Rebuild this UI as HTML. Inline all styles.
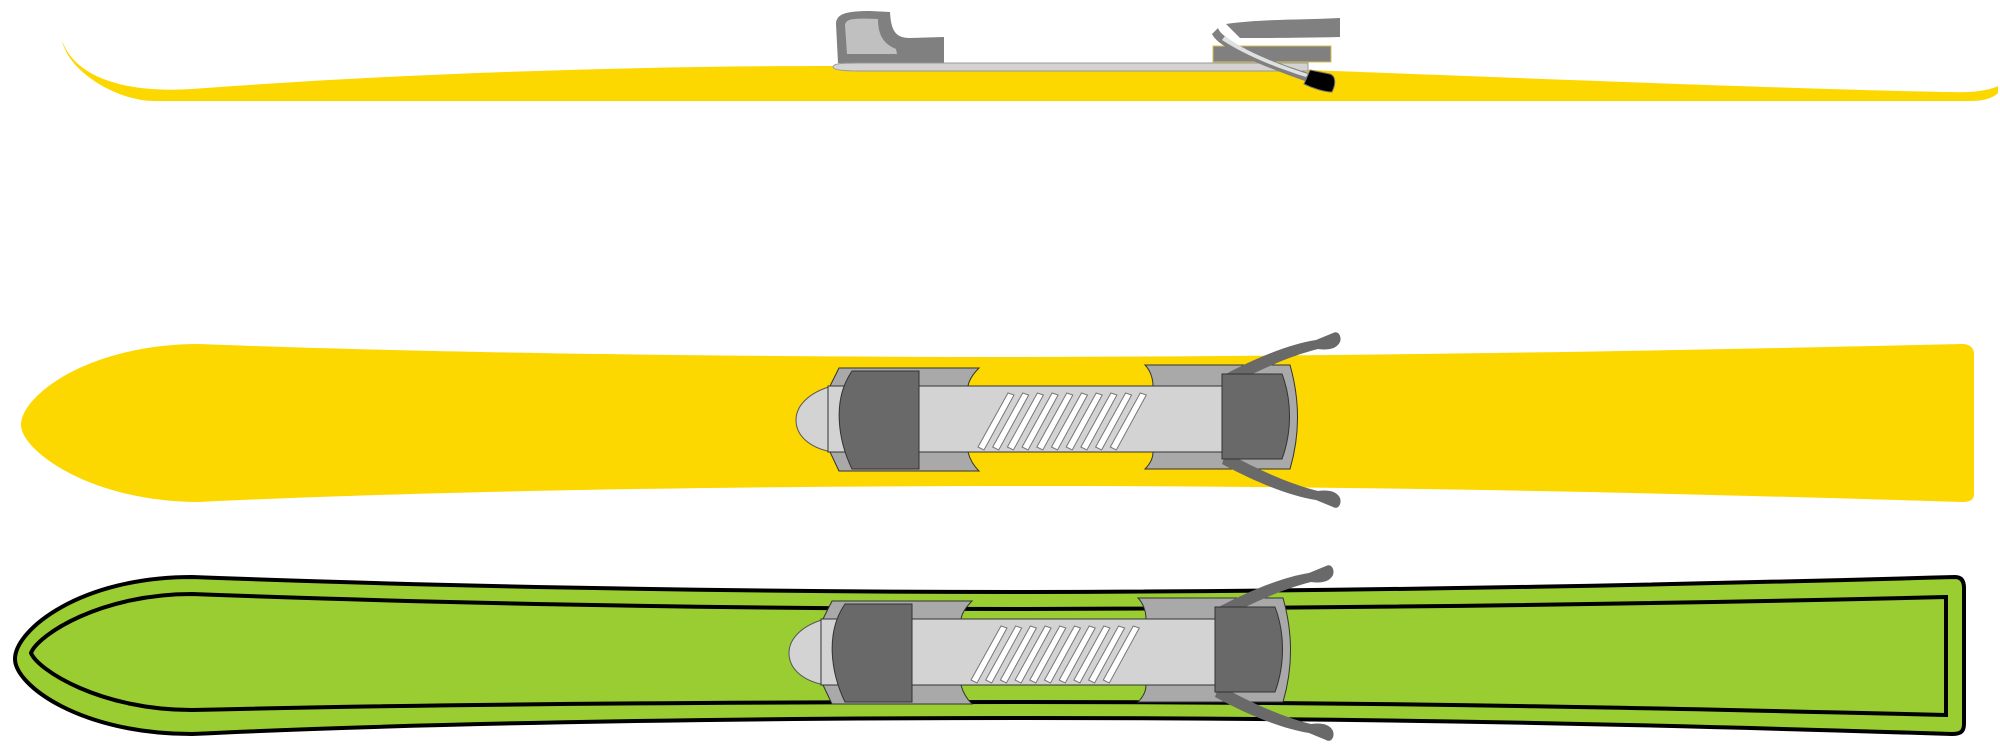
<!DOCTYPE html>
<html><head><meta charset="utf-8"><style>html,body{margin:0;padding:0;background:#fff}svg{display:block}</style></head>
<body>
<svg width="2000" height="754" viewBox="0 0 2000 754" xmlns="http://www.w3.org/2000/svg">
<defs>
<g id="binding">
  <!-- nose -->
  <path d="M832,386 C810,392 796,405 796,420 C796,436 810,448 832,452 Z" fill="#d3d3d3" stroke="#555" stroke-width="1"/>
  <!-- left plate -->
  <path d="M839,368 L979,368 C973,374 969,380 968,386 L968,452 C970,460 974,466 979,471 L839,471 L830,452 L830,386 Z" fill="#a9a9a9" stroke="#333" stroke-width="1"/>
  <!-- right plate -->
  <path d="M1145,365 L1290,365 C1300,400 1300,435 1290,469 L1145,469 C1150,464 1153,458 1153,452 L1153,386 C1153,378 1150,370 1145,365 Z" fill="#a9a9a9" stroke="#333" stroke-width="1"/>
  <!-- bar -->
  <rect x="828" y="386" width="396" height="66" fill="#d3d3d3" stroke="#333" stroke-width="1"/>
  <!-- stripes -->
  <g fill="#fff" stroke="#777" stroke-width="1">
    <g id="st"><path d="M978,447 L1008,393 L1014,395 L984,450 Z"/></g>
    <use href="#st" x="14.7"/><use href="#st" x="29.4"/><use href="#st" x="44.1"/><use href="#st" x="58.8"/>
    <use href="#st" x="73.5"/><use href="#st" x="88.2"/><use href="#st" x="102.9"/><use href="#st" x="117.6"/><use href="#st" x="132.3"/>
  </g>
  <!-- left dark block -->
  <path d="M852,371 L919,371 L919,469 L852,469 C838,440 832,400 852,371 Z" fill="#696969" stroke="#333" stroke-width="1"/>
  <!-- straps -->
  <path d="M1222,376 C1255,358 1290,344 1316,340 L1333,333 C1338,330 1342,336 1340,342 C1336,350 1326,350 1318,349 C1290,356 1258,370 1226,388 Z" fill="#696969"/>
  <path d="M1222,464 C1255,482 1290,496 1316,500 L1333,507 C1338,510 1342,504 1340,498 C1336,490 1326,490 1318,491 C1290,484 1258,470 1226,452 Z" fill="#696969"/>
  <!-- right dark block -->
  <path d="M1222,374 L1282,374 C1292,400 1292,432 1282,459 L1222,459 Z" fill="#696969" stroke="#333" stroke-width="1"/>
</g>
</defs>

<!-- TOP SKI (side view) -->
<path d="M62,40 C72,72 115,94 192,89 C420,72 650,66 833,66 L1308,70 C1520,78 1820,90 1949,92 C1975,93 1990,90 1998,86 L1998,93 C1992,99 1982,101 1970,101 L154,101 C118,101 68,72 62,40 Z" fill="#fdd700"/>
<!-- heel piece -->
<path d="M838,63 L836,24 C836,14 846,11 870,11 L890,12 C891,30 895,38 910,38 L944,37 L944,63 Z" fill="#808080"/>
<path d="M847,54 L845,25 C846,19 852,18 878,19 C878,36 884,44 896,49 L897,54 Z" fill="#c0c0c0"/>
<!-- toe piece -->
<path d="M1226,24 C1260,19 1300,20 1340,18 L1340,37 C1300,38 1262,38 1240,38 Z" fill="#808080"/>
<rect x="1213" y="46" width="118" height="16" fill="#808080" stroke="#d8c050" stroke-width="1"/>
<!-- plate -->
<path d="M833,67 C833,63 845,63 860,63 L1308,63 L1308,71 L860,71 C845,71 833,70 833,67 Z" fill="#d3d3d3" stroke="#999" stroke-width="1"/>
<!-- strap -->
<path d="M1218,28 C1222,40 1260,58 1312,74 L1308,82 C1262,66 1218,48 1212,34 Z" fill="#808080"/>
<path d="M1225,36 C1240,48 1270,62 1308,74 L1306,77 C1270,66 1240,52 1222,40 Z" fill="#e0e0e0"/>
<path d="M1310,70 L1330,74 C1336,76 1336,84 1332,92 C1324,92 1312,88 1304,84 Z" fill="#000" stroke="#777" stroke-width="1"/>

<!-- MIDDLE SKI -->
<path d="M199,344 C400,352 700,357 1026,357 C1400,356 1700,350 1962,344 C1970,344 1974,348 1974,354 L1974,494 C1974,500 1970,502 1962,502 C1700,494 1400,486 1026,486 C700,486 400,492 199,502 C90,502 21,450 21,425 C21,395 90,344 199,344 Z" fill="#fdd700"/>
<use href="#binding"/>

<!-- BOTTOM SKI -->
<path d="M192,577 C400,585 700,592 1026,592 C1400,591 1700,584 1955,577 C1962,577 1964,582 1964,588 L1964,724 C1964,732 1960,734 1952,734 C1700,726 1400,718 1026,718 C700,718 400,724 192,734 C80,734 15,685 15,659 C15,630 80,577 192,577 Z" fill="#9acd32" stroke="#000" stroke-width="4"/>
<path d="M192,594 C400,602 700,609 1026,609 C1400,608 1700,603 1946,597 L1946,715 C1700,709 1400,702 1026,702 C700,702 400,705 192,710 C100,710 38,670 31,653 C38,635 100,594 192,594 Z" fill="none" stroke="#000" stroke-width="4"/>
<use href="#binding" transform="translate(-7,233)"/>
</svg>
</body></html>
